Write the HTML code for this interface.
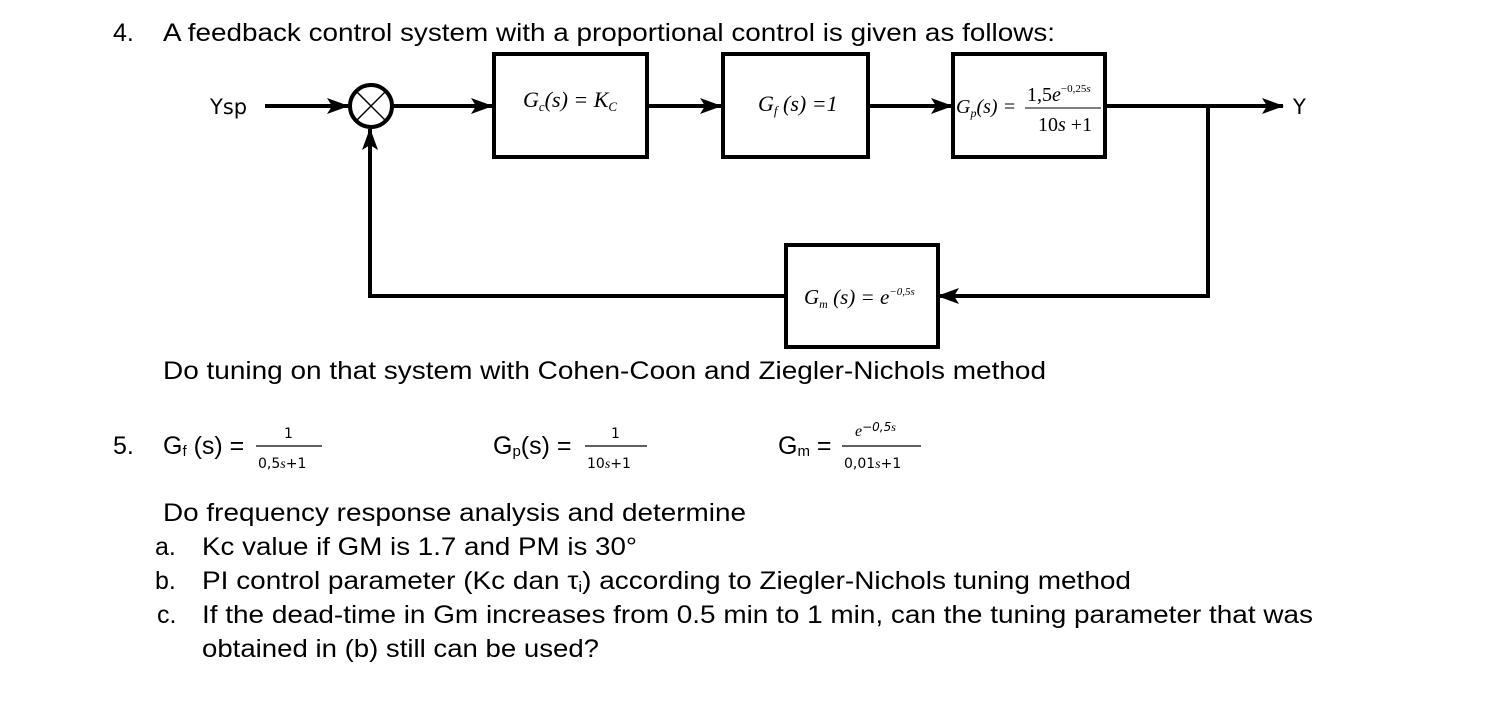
<!DOCTYPE html>
<html><head><meta charset="utf-8"><style>
html,body{margin:0;padding:0;background:#fff;}
svg{display:block;}
.t{font-family:"Liberation Sans",Arial,sans-serif;font-size:25px;fill:#000;}
.m{font-family:"Liberation Serif","Times New Roman",serif;font-style:italic;fill:#000;}
.r{font-family:"Liberation Serif","Times New Roman",serif;fill:#000;}
.c{font-family:"DejaVu Sans",sans-serif;fill:#000;}
</style></head><body>
<svg width="1488" height="702" viewBox="0 0 1488 702" xmlns="http://www.w3.org/2000/svg">
<defs>
<marker id="b" markerWidth="22" markerHeight="16" refX="21" refY="8" orient="auto" markerUnits="userSpaceOnUse">
<path d="M0,0 L22,8 L0,16 L5,8 Z" fill="#000"/></marker>
</defs>
<text class="t" x="113" y="41">4.</text>
<text class="t" x="163" y="41" textLength="892" lengthAdjust="spacingAndGlyphs">A feedback control system with a proportional control is given as follows:</text>

<g stroke="#000" stroke-width="4" fill="none">
<rect x="494" y="54" width="153" height="103"/>
<rect x="723" y="54" width="145" height="103"/>
<rect x="953" y="54" width="152" height="103"/>
<rect x="786" y="245" width="152" height="102"/>
<circle cx="371" cy="106" r="21"/>
<line x1="265" y1="106" x2="348" y2="106" marker-end="url(#b)"/>
<line x1="392" y1="106" x2="492" y2="106" marker-end="url(#b)"/>
<line x1="647" y1="106" x2="721" y2="106" marker-end="url(#b)"/>
<line x1="868" y1="106" x2="952" y2="106" marker-end="url(#b)"/>
<line x1="1105" y1="106" x2="1283" y2="106" marker-end="url(#b)"/>
<polyline points="1208,106 1208,296 938,296" marker-end="url(#b)"/>
<polyline points="786,296 370,296 370,129" marker-end="url(#b)"/>
</g>
<g stroke="#000" stroke-width="1.5">
<line x1="356" y1="91" x2="386" y2="121"/><line x1="386" y1="91" x2="356" y2="121"/>
</g>
<text class="c" x="210" y="114" font-size="21">Ysp</text>
<text class="c" x="1293" y="114" font-size="21">Y</text>

<text class="m" x="523" y="107" font-size="22">G<tspan font-size="13" dy="4">c</tspan><tspan class="r" dy="-4">(</tspan>s<tspan class="r">) = </tspan>K<tspan font-size="13" dy="4">C</tspan></text>
<text class="m" x="758" y="111" font-size="22">G<tspan font-size="13" dy="4">f</tspan><tspan class="r" dy="-4"> (</tspan>s<tspan class="r">) =1</tspan></text>
<text class="m" x="956" y="113" font-size="20">G<tspan font-size="12" dy="4">p</tspan><tspan class="r" dy="-4">(</tspan>s<tspan class="r">) =</tspan></text>
<line x1="1025" y1="108" x2="1101" y2="108" stroke="#000" stroke-width="1"/>
<text class="r" x="1027" y="101" font-size="20">1,5<tspan class="m">e</tspan><tspan font-size="11" dy="-9">−0,25<tspan class="m">s</tspan></tspan></text>
<text class="r" x="1038" y="131" font-size="20">10<tspan class="m">s</tspan> +1</text>
<text class="m" x="804" y="304" font-size="21">G<tspan font-size="12" dy="4">m</tspan><tspan class="r" dy="-4"> (</tspan>s<tspan class="r">) = </tspan>e<tspan class="r" font-size="11" dy="-9">−0,5</tspan><tspan font-size="11">s</tspan></text>

<text class="t" x="163" y="379" textLength="883" lengthAdjust="spacingAndGlyphs">Do tuning on that system with Cohen-Coon and Ziegler-Nichols method</text>

<text class="t" x="113" y="454">5.</text>
<text class="t" x="163" y="454">G<tspan font-size="15" dy="2">f</tspan><tspan dy="-2"> (s) =</tspan></text>
<line x1="256" y1="446" x2="322" y2="446" stroke="#000" stroke-width="1.3"/>
<text class="c" x="284" y="438" font-size="14">1</text>
<text class="c" x="258" y="468" font-size="14">0,5<tspan class="m">s</tspan>+1</text>
<text class="t" x="493" y="454">G<tspan font-size="15" dy="2">p</tspan><tspan dy="-2">(s) =</tspan></text>
<line x1="585" y1="446" x2="647" y2="446" stroke="#000" stroke-width="1.3"/>
<text class="c" x="611" y="438" font-size="14">1</text>
<text class="c" x="587" y="468" font-size="14">10<tspan class="m">s</tspan>+1</text>
<text class="t" x="778" y="454">G<tspan font-size="15" dy="2">m</tspan><tspan dy="-2"> =</tspan></text>
<line x1="842" y1="446" x2="921" y2="446" stroke="#000" stroke-width="1.3"/>
<text class="m" x="855" y="436" font-size="16">e<tspan class="c" font-size="12" dy="-5">−0,5</tspan><tspan font-size="12">s</tspan></text>
<text class="c" x="844" y="468" font-size="14">0,01<tspan class="m">s</tspan>+1</text>

<text class="t" x="163" y="521" textLength="583" lengthAdjust="spacingAndGlyphs">Do frequency response analysis and determine</text>
<text class="t" x="155" y="555">a.</text>
<text class="t" x="202" y="555" textLength="435" lengthAdjust="spacingAndGlyphs">Kc value if GM is 1.7 and PM is 30°</text>
<text class="t" x="155" y="589">b.</text>
<text class="t" x="202" y="589" textLength="929" lengthAdjust="spacingAndGlyphs">PI control parameter (Kc dan τ<tspan font-size="15" dy="3">i</tspan><tspan dy="-3">) according to Ziegler-Nichols tuning method</tspan></text>
<text class="t" x="157" y="623">c.</text>
<text class="t" x="202" y="623" textLength="1111" lengthAdjust="spacingAndGlyphs">If the dead-time in Gm increases from 0.5 min to 1 min, can the tuning parameter that was</text>
<text class="t" x="202" y="657" textLength="397" lengthAdjust="spacingAndGlyphs">obtained in (b) still can be used?</text>
</svg>
</body></html>
